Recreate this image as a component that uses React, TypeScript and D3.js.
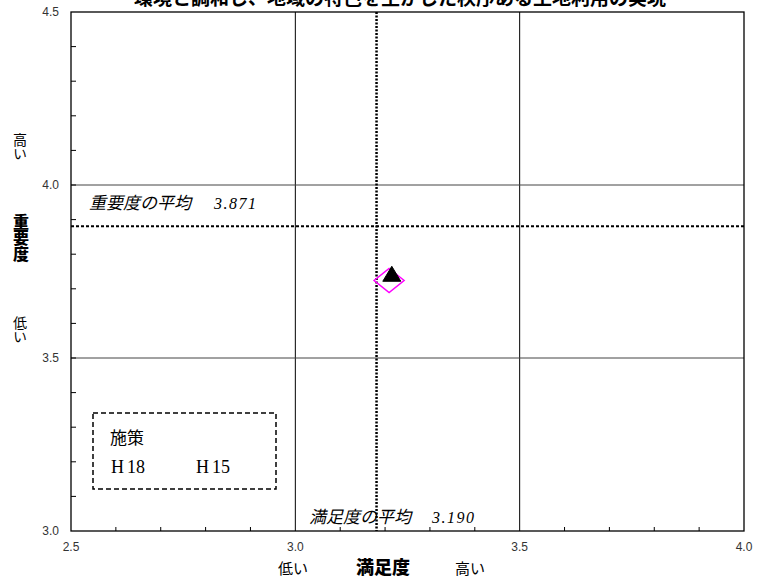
import React from "react";
import * as d3 from "d3";

const title = "環境と調和し、地域の特色を生かした秩序ある土地利用の実現";
const xTicks = [2.5, 3.0, 3.5, 4.0];
const yTicks = [3.0, 3.5, 4.0, 4.5];
const xGrid = [3.0, 3.5];
const yGrid = [3.5, 4.0];
const series = ["H18", "H15"];
const satisfaction = [3.215, 3.209];
const importance = [3.742, 3.724];
const meanSatisfactionLine = 3.181;
const meanImportanceLine = 3.881;
const meanSatisfactionLabel = "3.190";
const meanImportanceLabel = "3.871";

const W = 774;
const H = 580;
const M = { left: 71, right: 744, top: 12, bottom: 531 };

export default function App() {
  const x = d3.scaleLinear().domain([2.5, 4.0]).range([M.left, M.right]);
  const y = d3.scaleLinear().domain([3.0, 4.5]).range([M.bottom, M.top]);
  const minorX = d3.range(26, 40).map((v) => v / 10).filter((v) => !xGrid.includes(v));
  const minorY = d3.range(31, 45).map((v) => v / 10);
  const jp = "'Noto Sans CJK JP', sans-serif";
  const num = "'Liberation Sans', Arial, sans-serif";
  const serif = "'Liberation Serif', 'Times New Roman', serif";

  const triPath = (cx: number, cy: number) => {
    const w = 18, h = 14;
    return `M${cx},${cy - h / 2 - 1}L${cx + w / 2},${cy + h / 2}L${cx - w / 2},${cy + h / 2}Z`;
  };
  const diaPath = (cx: number, cy: number) => {
    const w = 15, h = 12;
    return `M${cx},${cy - h}L${cx + w},${cy}L${cx},${cy + h}L${cx - w},${cy}Z`;
  };

  const vert: React.CSSProperties = { writingMode: "vertical-rl", textOrientation: "upright" } as any;

  return (
    <svg width={W} height={H} style={{ position: "absolute", left: 0, top: 0, background: "#fff" }}>
      <rect x={0} y={0} width={W} height={H} fill="#fff" />
      <text x={400} y={5} textAnchor="middle" fontFamily={jp} fontWeight="bold" fontSize={19} fill="#000">
        {title}
      </text>

      {/* grid */}
      {xGrid.map((v) => (
        <line key={"xg" + v} x1={x(v)} x2={x(v)} y1={M.top} y2={M.bottom} stroke="#000" strokeWidth={1} />
      ))}
      {yGrid.map((v) => (
        <line key={"yg" + v} x1={M.left} x2={M.right} y1={y(v)} y2={y(v)} stroke="#444" strokeWidth={1} />
      ))}

      {/* minor ticks */}
      {minorX.map((v) => (
        <line key={"mx" + v} x1={x(v)} x2={x(v)} y1={M.bottom} y2={M.bottom - 4} stroke="#000" strokeWidth={1} />
      ))}
      {minorY.map((v) => (
        <line key={"my" + v} x1={M.left} x2={M.left + 5} y1={y(v)} y2={y(v)} stroke="#000" strokeWidth={1} />
      ))}

      {/* frame */}
      <rect x={M.left} y={M.top} width={M.right - M.left} height={M.bottom - M.top} fill="none" stroke="#000" strokeWidth={1.3} />

      {/* mean lines */}
      <line x1={x(meanSatisfactionLine)} x2={x(meanSatisfactionLine)} y1={M.top} y2={M.bottom} stroke="#000" strokeWidth={2.5} strokeDasharray="2,1.5" />
      <line x1={M.left} x2={M.right} y1={y(meanImportanceLine)} y2={y(meanImportanceLine)} stroke="#000" strokeWidth={2} strokeDasharray="3,2" />

      {/* mean labels */}
      <text x={89} y={209} fontFamily={jp} fontStyle="italic" fontSize={17} fill="#000">重要度の平均</text>
      <text x={214} y={209} fontFamily={serif} fontStyle="italic" fontSize={16} letterSpacing={1.5} fill="#000">{meanImportanceLabel}</text>
      <text x={309} y={523} fontFamily={jp} fontStyle="italic" fontSize={17} fill="#000">満足度の平均</text>
      <text x={432} y={523} fontFamily={serif} fontStyle="italic" fontSize={16} letterSpacing={1.5} fill="#000">{meanSatisfactionLabel}</text>

      {/* points */}
      <path d={diaPath(x(satisfaction[1]), y(importance[1]))} fill="none" stroke="#ff00ff" strokeWidth={1.5} />
      <path d={triPath(x(satisfaction[0]), y(importance[0]))} fill="#000" stroke="#000" strokeWidth={1} />

      {/* tick labels */}
      {yTicks.map((v) => (
        <text key={"yt" + v} x={59} y={y(v) + 4} textAnchor="end" fontFamily={num} fontSize={12} fill="#333">
          {v.toFixed(1)}
        </text>
      ))}
      {xTicks.map((v) => (
        <text key={"xt" + v} x={x(v)} y={551} textAnchor="middle" fontFamily={num} fontSize={12} fill="#333">
          {v.toFixed(1)}
        </text>
      ))}

      {/* axis titles */}
      <g fontFamily={jp} fill="#000">
        <text x={20} y={133} fontSize={14} style={vert}>高い</text>
        <text x={20} y={316} fontSize={14} style={vert}>低い</text>
        <text x={21} y={214} fontSize={16} fontWeight="900" style={vert}>重要度</text>
        <text x={293} y={574} fontSize={15} textAnchor="middle">低い</text>
        <text x={383} y={574} fontSize={18} fontWeight="900" textAnchor="middle">満足度</text>
        <text x={470} y={574} fontSize={15} textAnchor="middle">高い</text>
      </g>

      {/* legend */}
      <rect x={93} y={413} width={183} height={76} fill="none" stroke="#000" strokeWidth={1.5} strokeDasharray="5,3" />
      <text x={110} y={444} fontFamily={jp} fontSize={17} fill="#000">施策</text>
      {series.map((s, i) => (
        <text key={s} x={111 + i * 85} y={473} fontFamily={serif} fontSize={18} fill="#000">
          H<tspan dx={3}>{s.slice(1)}</tspan>
        </text>
      ))}
    </svg>
  );
}
